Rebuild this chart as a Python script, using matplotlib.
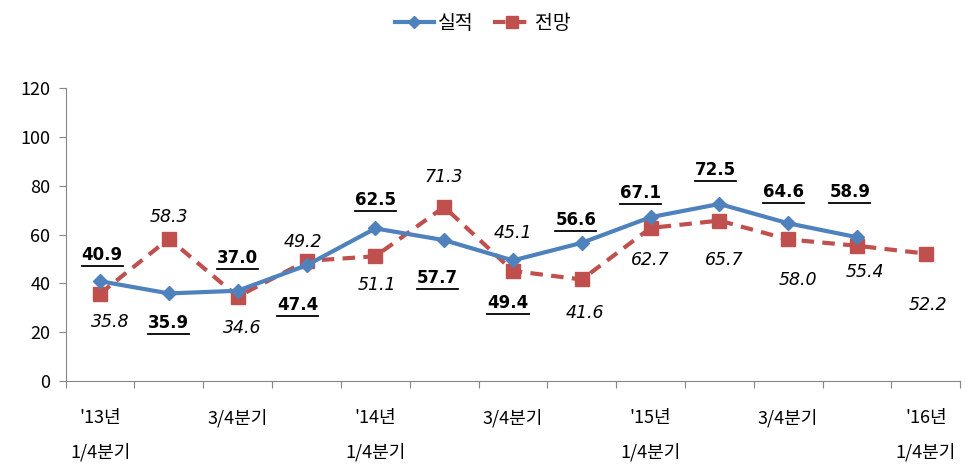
import matplotlib
matplotlib.use('Agg')
import matplotlib.pyplot as plt
from matplotlib.lines import Line2D
from matplotlib.ticker import FixedLocator

plt.rcParams['font.family'] = ['Noto Sans CJK KR', 'DejaVu Sans']

quarters = list(range(13))
tick_labels = ["'13년\n1/4분기", "3/4분기", "'14년\n1/4분기", "3/4분기",
               "'15년\n1/4분기", "3/4분기", "'16년\n1/4분기"]
actual = [40.9, 35.9, 37.0, 47.4, 62.5, 57.7, 49.4, 56.6, 67.1, 72.5, 64.6, 58.9]
forecast = [35.8, 58.3, 34.6, 49.2, 51.1, 71.3, 45.1, 41.6, 62.7, 65.7, 58.0, 55.4, 52.2]

# label offsets in pixels (dx, dy) from each point
actual_off = [(2, 26), (0, -30), (0, 33), (-9, -40), (0, 28), (-7, -38),
              (-5, -43), (-6, 23), (-10, 24), (-4, 34), (-5, 31), (-7, 45)]
forecast_off = [(10, -28), (0, 22), (5, -31), (-4, 19), (2, -29), (0, 30),
                (0, 38), (3, -34), (0, -32), (5, -39), (10, -41), (8, -26), (2, -51)]

blue = '#4F81BD'
red = '#C0504D'

fig = plt.figure(figsize=(9.66, 4.7), dpi=100)
ax = fig.add_axes([0.068, 0.189, 0.926, 0.624])

ax.plot(quarters[:len(actual)], actual, color=blue, lw=3, marker='D', ms=7,
        label='실적', zorder=3)
ax.plot(quarters, forecast, color=red, lw=3, ls=(0, (3, 2)), marker='s', ms=10,
        label='전망', zorder=2)

ax.set_ylim(0, 120)
ax.set_yticks(range(0, 121, 20))
ax.set_xlim(-0.5, 12.5)
ax.xaxis.set_major_locator(FixedLocator([i - 0.5 for i in range(14)]))
ax.xaxis.set_minor_locator(FixedLocator(quarters[::2]))
ax.set_xticklabels([], minor=False)
ax.set_xticklabels(tick_labels, minor=True)
ax.tick_params(axis='x', which='major', length=5, color='#868686')
ax.tick_params(axis='x', which='minor', length=0, pad=20, labelsize=13)
ax.tick_params(axis='y', length=5, color='#868686', labelsize=13, pad=6)
for t in ax.xaxis.get_minorticklabels():
    t.set_linespacing(2.1)

for s in ['top', 'right']:
    ax.spines[s].set_visible(False)
for s in ['left', 'bottom']:
    ax.spines[s].set_color('#868686')

actual_texts = []
for i, v in enumerate(actual):
    dx, dy = actual_off[i]
    t = ax.annotate(f'{v:.1f}', (i, v), xytext=(dx, dy), textcoords='offset pixels',
                    ha='center', va='center', fontsize=12, fontweight='bold',
                    family='DejaVu Sans')
    actual_texts.append(t)

for i, v in enumerate(forecast):
    dx, dy = forecast_off[i]
    ax.annotate(f'{v:.1f}', (i, v), xytext=(dx, dy), textcoords='offset pixels',
                ha='center', va='center', fontsize=12.5, style='italic',
                family='DejaVu Sans')

# underline the actual labels
fig.canvas.draw()
r = fig.canvas.get_renderer()
for t in actual_texts:
    bb = t.get_window_extent(r)
    y = bb.y0 - 2
    fig.add_artist(Line2D([bb.x0 / 966, bb.x1 / 966], [y / 470, y / 470],
                          color='black', lw=1.3))

fig.legend(loc='upper center', bbox_to_anchor=(0.5, 1.01), ncol=2, frameon=False,
           fontsize=14, handlelength=2.0, columnspacing=1.0, handletextpad=0.2,
           markerscale=0.85)

fig.savefig('out.png', dpi=100)
